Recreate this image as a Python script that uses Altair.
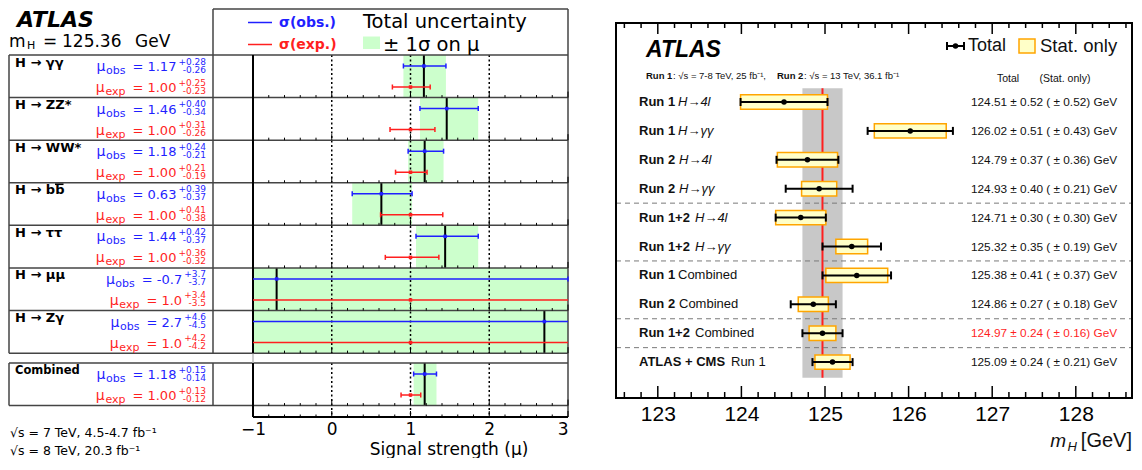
import altair as alt
import pandas as pd

# ================= data: left panel (signal strength per channel) =================
channels = ["H → γγ", "H → ZZ*", "H → WW*", "H → bb", "H → ττ", "H → μμ", "H → Zγ", "Combined"]
mu_obs = [1.17, 1.46, 1.18, 0.63, 1.44, -0.7, 2.7, 1.18]
obs_up = [0.28, 0.40, 0.24, 0.39, 0.42, 3.7, 4.6, 0.15]
obs_dn = [0.26, 0.34, 0.21, 0.37, 0.37, 3.7, 4.5, 0.14]
mu_exp = [1.00, 1.00, 1.00, 1.00, 1.00, 1.0, 1.0, 1.00]
exp_up = [0.25, 0.31, 0.21, 0.41, 0.36, 3.4, 4.2, 0.13]
exp_dn = [0.23, 0.26, 0.19, 0.38, 0.32, 3.5, 4.2, 0.12]
n_dec = [2, 2, 2, 2, 2, 1, 1, 2]
mu_ticks = [-1, 0, 1, 2, 3]

# ================= data: right panel (Higgs mass) =================
m_bold = ["Run 1", "Run 1", "Run 2", "Run 2", "Run 1+2", "Run 1+2", "Run 1", "Run 2", "Run 1+2", "ATLAS + CMS"]
m_rest = ["H→4l", "H→γγ", "H→4l", "H→γγ", "H→4l", "H→γγ", "Combined", "Combined", "Combined", "Run 1"]
m_val = [124.51, 126.02, 124.79, 124.93, 124.71, 125.32, 125.38, 124.86, 124.97, 125.09]
m_tot = [0.52, 0.51, 0.37, 0.40, 0.30, 0.35, 0.41, 0.27, 0.24, 0.24]
m_stat = [0.52, 0.43, 0.36, 0.21, 0.30, 0.19, 0.37, 0.18, 0.16, 0.21]
m_ticks = [123, 124, 125, 126, 127, 128]
best_row = 8  # Run 1+2 Combined

# ================= style / layout =================
LF = "DejaVu Sans"
RF = "'Liberation Sans', Arial, sans-serif"
BLUE, RED, GREEN = "#1f1fff", "#ff1f1f", "#ccffcc"
FRAME = "#444444"

LW, LH = 559, 408
RW, RHt = 516, 389
ROWPX_L = 42.59
ROWPX_R = 28.9


def xl(px):
    return -1 + (px - 251) / 78.75


def yl(py):
    return (py - 54) / ROWPX_L


def xr(px):
    return 122.5 + (px - 615) / 83.6


def yr(py):
    return (py - 101) / ROWPX_R


XL0, YL0, YL1 = xl(7), yl(8), yl(416)
XR0, XR1, YR0, YR1 = 122.5, xr(615 + RW), yr(8), yr(397)

_W = {c: 0.636 for c in "0123456789"}
_W.update({".": 0.318, " ": 0.318, "=": 0.838, "+": 0.838, "-": 0.361,
           "o": 0.612, "b": 0.635, "s": 0.521, "e": 0.615, "x": 0.592, "p": 0.635})


def tw(s, size):
    return sum(_W.get(c, 0.6) for c in s) * size


# ---------------- left scales ----------------
xsL = alt.Scale(domain=[XL0, 3], nice=False, zero=False)
ysL = alt.Scale(domain=[YL0, YL1], reverse=True, nice=False, zero=False)
axisL = alt.Axis(values=mu_ticks, labelExpr="datum.value < 0 ? '\u2212' + abs(datum.value) : datum.label",
                 ticks=False, domain=False, grid=False, labelFont=LF, labelFontSize=17,
                 labelPadding=4, labelColor="black", title=None)


def XLe(f):
    return alt.X(f, type="quantitative", scale=xsL, axis=axisL)


def YLe(f):
    return alt.Y(f, type="quantitative", scale=ysL, axis=None)


def text_layers(items, X, Y):
    df = pd.DataFrame(items)
    out = []
    for (font, weight, style, align), g in df.groupby(["font", "weight", "style", "align"]):
        out.append(alt.Chart(g.reset_index(drop=True)).mark_text(
            font=font, fontWeight=weight, fontStyle=style, align=align, baseline="middle"
        ).encode(x=X("x"), y=Y("y"), text="t:N",
                 size=alt.Size("s:Q", scale=None), color=alt.Color("c:N", scale=None)))
    return out


# ---------------- left data frames ----------------
tops = [0, 1, 2, 3, 4, 5, 6, yl(362)]
ct = tops[7]
rows = pd.DataFrame(dict(chan=channels, mo=mu_obs, ou=obs_up, od=obs_dn, top=tops))
rows["bot"] = rows["top"] + 1
rows["lo"] = (rows["mo"] - rows["od"]).clip(-1, 3)
rows["hi"] = (rows["mo"] + rows["ou"]).clip(-1, 3)

bars, caps = [], []
for i in range(len(channels)):
    for kind, c, up, dn, off in [("obs", mu_obs[i], obs_up[i], obs_dn[i], 11),
                                 ("exp", mu_exp[i], exp_up[i], exp_dn[i], 32)]:
        y = tops[i] + off / ROWPX_L
        lo, hi = c - dn, c + up
        bars.append(dict(kind=kind, y=y, c=c, lo=max(lo, -1), hi=min(hi, 3)))
        for v in (lo, hi):
            if -1 <= v <= 3:
                caps.append(dict(kind=kind, x=v, y=y - 2.5 / ROWPX_L, y2=y + 2.5 / ROWPX_L))
bars = pd.DataFrame(bars)
caps = pd.DataFrame(caps)
kind_color = alt.Color("kind:N", scale=alt.Scale(domain=["obs", "exp"], range=[BLUE, RED]), legend=None)

segs = []
for k in range(8):
    segs.append(dict(x=XL0, x2=3, y=k, y2=k))
for yy in (ct, ct + 1):
    segs.append(dict(x=XL0, x2=3, y=yy, y2=yy))
for xx in (XL0, xl(211)):
    segs.append(dict(x=xx, x2=xx, y=0 if xx == XL0 else YL0, y2=7))
    segs.append(dict(x=xx, x2=xx, y=ct, y2=ct + 1))
segs.append(dict(x=xl(211), x2=3, y=YL0, y2=YL0))
segs.append(dict(x=3, x2=3, y=YL0, y2=YL1))
segs = pd.DataFrame(segs)
gapl = pd.DataFrame([dict(x=-1, x2=-1, y=7, y2=ct)])
blk = pd.DataFrame([dict(x=-1, x2=-1, y=0, y2=7), dict(x=-1, x2=-1, y=ct, y2=YL1),
                    dict(x=-1, x2=3, y=YL1, y2=YL1)])

tk = []
for base in [1, 2, 3, 4, 5, 6, 7, ct + 1, YL1]:
    for k in range(21):
        v = round(-1 + 0.2 * k, 1)
        ln = 6 if float(v).is_integer() else 2.5
        tk.append(dict(x=v, y=base, y2=base - ln / ROWPX_L))
tk = pd.DataFrame(tk)

dots = pd.DataFrame(dict(x=[0, 1, 2, 0, 1, 2], y=[0, 0, 0, ct, ct, ct], y2=[7, 7, 7, YL1, YL1, YL1]))

leg_lines = pd.DataFrame([dict(kind="obs", x=xl(246), x2=xl(270), y=yl(21.5)),
                          dict(kind="exp", x=xl(246), x2=xl(270), y=yl(43.5))])
leg_box = pd.DataFrame([dict(x=xl(361), x2=xl(378), y=yl(35.5), y2=yl(48))])

# bar over the second "b" of H -> bb (part of the label glyphs)
bbar = pd.DataFrame([dict(x=xl(53), x2=xl(61.5), y=yl(54 + tops[3] * ROWPX_L + 1.5))])

itL = []


def addL(t, x, y, s, c="black", w="normal", st="normal", a="left", f=LF):
    itL.append(dict(t=t, x=x, y=y, s=s, c=c, weight=w, style=st, align=a, font=f))


addL("ATLAS", xl(15), yl(19), 22, w="bold", st="italic")
addL("m", xl(7), yl(41), 17)
addL("H", xl(25), yl(45), 11)
addL("=", xl(41), yl(41), 17)
addL("125.36", xl(60), yl(41), 17)
addL("GeV", xl(133), yl(41), 17)
addL("σ(obs.)", xl(277), yl(21.5), 14, BLUE, "bold")
addL("σ(exp.)", xl(277), yl(43.5), 14, RED, "bold")
addL("Total uncertainty", xl(361), yl(20.5), 19.5)
addL("± 1σ on μ", xl(381), yl(44), 19.5)

for i in range(len(channels)):
    rt = 54 + tops[i] * ROWPX_L
    fs = 13 if i < 7 else 11.5
    addL(channels[i], xl(13), yl(rt + 7.5), fs, w="bold")
    for c, up, dn, col, sub, yc in [(mu_obs[i], obs_up[i], obs_dn[i], BLUE, "obs", rt + 12),
                                     (mu_exp[i], exp_up[i], exp_dn[i], RED, "exp", rt + 33)]:
        fm = "{:.%df}" % n_dec[i]
        main = "= " + fm.format(c)
        sp = "+" + fm.format(up)
        sb = "-" + fm.format(dn)
        addL(sp, xl(204), yl(yc - 5.5), 9, col, a="right")
        addL(sb, xl(204), yl(yc + 2.5), 9, col, a="right")
        main_r = 204 - max(tw(sp, 9), tw(sb, 9)) - 2
        addL(main, xl(main_r), yl(yc), 13, col, a="right")
        sub_r = main_r - tw(main, 13) - 7
        addL(sub, xl(sub_r), yl(yc + 4), 11, col, a="right")
        addL("μ", xl(sub_r - tw(sub, 11) - 0.5), yl(yc), 14, col, a="right")

addL("√s = 7 TeV, 4.5-4.7 fb⁻¹", xl(8), yl(432), 12.5)
addL("√s = 8 TeV, 20.3 fb⁻¹", xl(8), yl(450), 12.5)
addL("Signal strength (μ)", xl(447), yl(448.5), 17, a="center")

layersL = [
    alt.Chart(rows).mark_rect(color=GREEN).encode(x=XLe("lo"), x2="hi", y=YLe("top"), y2="bot"),
    alt.Chart(dots).mark_rule(color="black", strokeWidth=1.5, strokeDash=[2, 2.5]).encode(
        x=XLe("x"), y=YLe("y"), y2="y2"),
    alt.Chart(rows).mark_rule(color="black", strokeWidth=2).encode(x=XLe("mo"), y=YLe("top"), y2="bot"),
    alt.Chart(segs).mark_rule(color=FRAME, strokeWidth=1.5).encode(x=XLe("x"), x2="x2", y=YLe("y"), y2="y2"),
    alt.Chart(gapl).mark_rule(color="#bbbbbb", strokeWidth=1.5).encode(x=XLe("x"), x2="x2", y=YLe("y"), y2="y2"),
    alt.Chart(blk).mark_rule(color="black", strokeWidth=2).encode(x=XLe("x"), x2="x2", y=YLe("y"), y2="y2"),
    alt.Chart(tk).mark_rule(color="black", strokeWidth=1).encode(x=XLe("x"), y=YLe("y"), y2="y2"),
    alt.Chart(bars).mark_rule(strokeWidth=1.5).encode(x=XLe("lo"), x2="hi", y=YLe("y"), color=kind_color),
    alt.Chart(caps).mark_rule(strokeWidth=1.5).encode(x=XLe("x"), y=YLe("y"), y2="y2", color=kind_color),
    alt.Chart(bars).mark_square(size=12, opacity=1).encode(x=XLe("c"), y=YLe("y"), color=kind_color),
    alt.Chart(leg_lines).mark_rule(strokeWidth=1.5).encode(x=XLe("x"), x2="x2", y=YLe("y"), color=kind_color),
    alt.Chart(leg_box).mark_rect(color=GREEN).encode(x=XLe("x"), x2="x2", y=YLe("y"), y2="y2"),
    alt.Chart(bbar).mark_rule(color="black", strokeWidth=1.6).encode(x=XLe("x"), x2="x2", y=YLe("y")),
] + text_layers(itL, XLe, YLe)

left = alt.layer(*layersL).properties(width=LW, height=LH)

# ---------------- right scales ----------------
xsR = alt.Scale(domain=[XR0, XR1], nice=False, zero=False)
ysR = alt.Scale(domain=[YR0, YR1], reverse=True, nice=False, zero=False)
axisR = alt.Axis(values=m_ticks, ticks=False, domain=False, grid=False, labelFont=RF, labelFontSize=21,
                 labelPadding=5, labelColor="black", title=None, format="d")


def XRe(f):
    return alt.X(f, type="quantitative", scale=xsR, axis=axisR)


def YRe(f):
    return alt.Y(f, type="quantitative", scale=ysR, axis=None)


mrows = pd.DataFrame(dict(v=m_val, t=m_tot, s=m_stat))
mrows["y"] = list(range(len(m_val)))
mrows["tlo"] = mrows["v"] - mrows["t"]
mrows["thi"] = mrows["v"] + mrows["t"]
mrows["slo"] = mrows["v"] - mrows["s"]
mrows["shi"] = mrows["v"] + mrows["s"]
mrows["by"] = mrows["y"] - 7.2 / ROWPX_R
mrows["by2"] = mrows["y"] + 7.2 / ROWPX_R
mcaps = pd.concat([
    pd.DataFrame(dict(x=mrows["tlo"], y=mrows["y"] - 4 / ROWPX_R, y2=mrows["y"] + 4 / ROWPX_R)),
    pd.DataFrame(dict(x=mrows["thi"], y=mrows["y"] - 4 / ROWPX_R, y2=mrows["y"] + 4 / ROWPX_R)),
])

band = pd.DataFrame([dict(x=m_val[best_row] - m_tot[best_row], x2=m_val[best_row] + m_tot[best_row],
                          y=yr(87.3), y2=yr(376.7), c=m_val[best_row])])
dash = pd.DataFrame(dict(x=[XR0] * 4, x2=[XR1] * 4, y=[3.5, 5.5, 7.5, 8.5]))
frame = pd.DataFrame([dict(x=XR0, x2=XR1, y=yr(22), y2=YR1)])

rtk = []
for k in range(31):
    v = round(122.6 + 0.2 * k, 1)
    if v >= XR1:
        continue
    mj = float(v).is_integer()
    rtk.append(dict(x=v, y=yr(22), y2=yr(22 + (11 if mj else 5))))
    rtk.append(dict(x=v, y=YR1, y2=yr(397 - (12 if mj else 6))))
rtk = pd.DataFrame(rtk)

lg_bar = pd.DataFrame([dict(x=xr(946), x2=xr(963), y=yr(45))])
lg_caps = pd.DataFrame(dict(x=[xr(946), xr(963)], y=[yr(41)] * 2, y2=[yr(49)] * 2))
lg_pt = pd.DataFrame([dict(x=xr(954.5), y=yr(45))])
lg_box = pd.DataFrame([dict(x=xr(1018), x2=xr(1034), y=yr(38), y2=yr(52))])

itR = []


def addR(t, x, y, s, c="#111111", w="normal", st="normal", a="left", f=RF):
    itR.append(dict(t=t, x=xr(x), y=yr(y), s=s, c=c, weight=w, style=st, align=a, font=f))


addR("ATLAS", 645, 49, 23, c="black", w="bold", st="italic")
addR("Run 1", 645, 75, 9.5, w="bold")
addR(": √s = 7-8 TeV, 25 fb⁻¹, ", 672, 75, 9.5)
addR("Run 2", 776, 75, 9.5, w="bold")
addR(": √s = 13 TeV, 36.1 fb⁻¹", 803, 75, 9.5)
addR("Total", 1007, 78, 10.5, a="center")
addR("(Stat. only)", 1064, 78, 10.5, a="center")
addR("Total", 967, 45, 18)
addR("Stat. only", 1039, 45, 18.5)
rest_x = {"Run 1": 677, "Run 2": 678, "Run 1+2": 694, "ATLAS + CMS": 730}
for i in range(len(m_val)):
    py = 101 + ROWPX_R * i
    addR(m_bold[i], 638, py, 13, w="bold")
    addR(m_rest[i], rest_x[m_bold[i]], py, 13, st="italic" if m_rest[i].startswith("H") else "normal")
    addR("%.2f ± %.2f ( ± %.2f) GeV" % (m_val[i], m_tot[i], m_stat[i]), 970, py, 11.8,
         c=RED if i == best_row else "#111111")
addR("[GeV]", 615 + RW, 440, 20, a="right")
addR("H", 1076, 446, 13, st="italic", a="right")
addR("m", 1065, 440, 19, st="italic", a="right")

layersR = [
    alt.Chart(band).mark_rect(color="#c8c8c8").encode(x=XRe("x"), x2="x2", y=YRe("y"), y2="y2"),
    alt.Chart(band).mark_rule(color=RED, strokeWidth=2).encode(x=XRe("c"), y=YRe("y"), y2="y2"),
    alt.Chart(dash).mark_rule(color="#7a7a7a", strokeWidth=1, strokeDash=[5, 4]).encode(
        x=XRe("x"), x2="x2", y=YRe("y")),
    alt.Chart(mrows).mark_rect(fill="#ffffc8", stroke="#ffa500", strokeWidth=1.5).encode(
        x=XRe("slo"), x2="shi", y=YRe("by"), y2="by2"),
    alt.Chart(mrows).mark_rule(color="black", strokeWidth=2).encode(x=XRe("tlo"), x2="thi", y=YRe("y")),
    alt.Chart(mcaps).mark_rule(color="black", strokeWidth=2).encode(x=XRe("x"), y=YRe("y"), y2="y2"),
    alt.Chart(mrows).mark_circle(color="black", size=30, opacity=1).encode(x=XRe("v"), y=YRe("y")),
    alt.Chart(frame).mark_rect(fillOpacity=0, stroke="black", strokeWidth=2).encode(
        x=XRe("x"), x2="x2", y=YRe("y"), y2="y2"),
    alt.Chart(rtk).mark_rule(color="black", strokeWidth=1.5).encode(x=XRe("x"), y=YRe("y"), y2="y2"),
    alt.Chart(lg_box).mark_rect(fill="#ffffc8", stroke="#ffa500", strokeWidth=1.5).encode(
        x=XRe("x"), x2="x2", y=YRe("y"), y2="y2"),
    alt.Chart(lg_bar).mark_rule(color="black", strokeWidth=2).encode(x=XRe("x"), x2="x2", y=YRe("y")),
    alt.Chart(lg_caps).mark_rule(color="black", strokeWidth=2).encode(x=XRe("x"), y=YRe("y"), y2="y2"),
    alt.Chart(lg_pt).mark_circle(color="black", size=30, opacity=1).encode(x=XRe("x"), y=YRe("y")),
] + text_layers(itR, XRe, YRe)

right = alt.layer(*layersR).properties(width=RW, height=RHt)

chart = alt.hconcat(left, right, spacing=48, bounds="flush").properties(padding=0).configure_view(stroke=None)
chart.save("out.html", embed_options={"renderer": "svg", "actions": False})
